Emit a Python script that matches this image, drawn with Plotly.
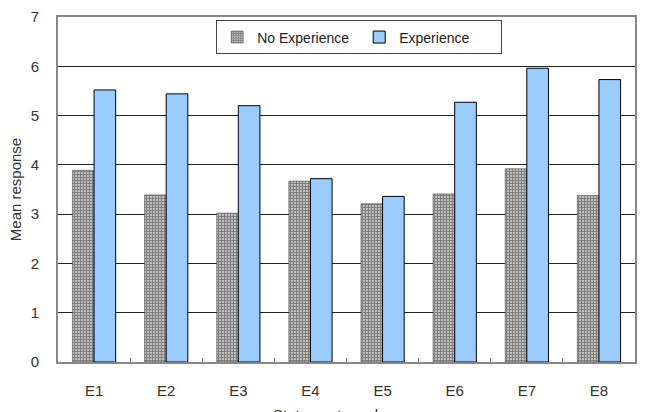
import plotly.graph_objects as go

categories = ["E1", "E2", "E3", "E4", "E5", "E6", "E7", "E8"]
no_experience = [3.89, 3.39, 3.02, 3.67, 3.21, 3.41, 3.92, 3.38]
experience = [5.52, 5.44, 5.20, 3.72, 3.36, 5.27, 5.96, 5.73]
y_ticks = [0, 1, 2, 3, 4, 5, 6, 7]

FONT = "Liberation Sans, Arial, sans-serif"

fig = go.Figure()
fig.add_trace(go.Bar(
    x=categories, y=no_experience, name="No Experience",
    marker=dict(
        color="white",
        line=dict(color="#333333", width=0.5),
        pattern=dict(shape="+", size=3, solidity=0.8, fgcolor="black", bgcolor="white"),
    ),
))
fig.add_trace(go.Bar(
    x=categories, y=experience, name="Experience",
    marker=dict(color="#99CCFF", line=dict(color="black", width=1)),
))

fig.update_layout(
    width=645, height=412,
    margin=dict(l=58, r=8, t=11, b=50),
    paper_bgcolor="white", plot_bgcolor="white",
    barmode="group", bargap=0.4, bargroupgap=0,
    font=dict(family=FONT, size=15, color="#333333"),
    showlegend=True,
    legend=dict(
        orientation="h", x=0.522, xanchor="center", y=0.99, yanchor="top",
        bgcolor="white", bordercolor="#444444", borderwidth=1,
        font=dict(family=FONT, size=14, color="#222222"),
        itemwidth=30, tracegroupgap=0, entrywidth=97,
    ),
    xaxis=dict(
        showline=True, linecolor="#888888", linewidth=2, mirror=True,
        ticks="inside", ticklen=4, tickcolor="#666666",
        tickson="boundaries",
        ticklabelstandoff=14,
        tickfont=dict(family=FONT, size=15, color="#333333"),
        showgrid=False,
    ),
    yaxis=dict(
        range=[0, 7], tickvals=y_ticks,
        showline=True, linecolor="#888888", linewidth=2, mirror=True,
        showgrid=True, gridcolor="#222222", gridwidth=1,
        ticks="", ticklabelstandoff=14,
        tickfont=dict(family=FONT, size=15, color="#333333"),
        title=dict(text="Mean response", font=dict(family=FONT, size=15, color="#333333"), standoff=5),
        zeroline=False,
    ),
)

fig.add_annotation(
    text="Statement number", xref="paper", yref="paper", x=0.48, y=0,
    xanchor="center", yanchor="top", yshift=-42, showarrow=False,
    font=dict(family=FONT, size=15, color="#333333"),
)

fig.write_html("out.html")
